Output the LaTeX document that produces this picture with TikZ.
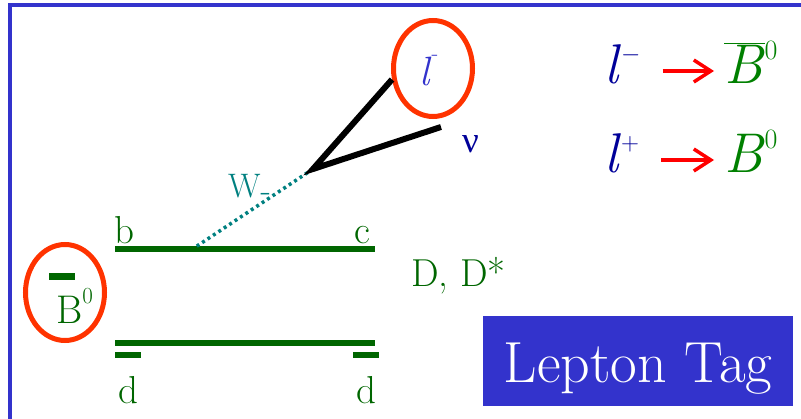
\documentclass[tikz,border=0pt]{standalone}
\usepackage{fontspec}
\newfontfamily\greekfont{Liberation Serif}
\usepackage{tikz}
\usetikzlibrary{shapes.geometric,arrows.meta}
\definecolor{LTBlue}{HTML}{3333CC}
\definecolor{LTNavy}{HTML}{000099}
\definecolor{LTGreen}{HTML}{006600}
\definecolor{LTBright}{HTML}{008000}
\definecolor{LTRing}{HTML}{FF3300}
\definecolor{LTRed}{HTML}{FF0000}
\definecolor{LTTeal}{HTML}{008080}
\newcommand\fsz[1]{\fontsize{#1}{#1}\selectfont}
\tikzset{
  quark/.style={LTGreen,line width=6pt},
  ring/.style={ellipse,draw=LTRing,line width=5pt,minimum width=79pt,minimum height=96pt,inner sep=0pt},
  qlabel/.style={LTGreen,inner sep=0pt,anchor=base west,font=\fsz{39}},
  track/.style={black,line width=6pt},
  formula/.style={inner sep=0pt,anchor=base west,font=\fsz{56}},
  sel/.style={LTRed,line width=3.5pt,-{Straight Barb[length=17pt,width=22pt]}},
}

\begin{document}
\begin{tikzpicture}[x=1pt,y=-1pt]
\useasboundingbox (0,0) rectangle (801,418);
\draw[LTBlue,line width=4pt] (9.5,422) -- (9.5,5.3) -- (805,5.3);
\node[ring] (lring) at (433,68.5) {};
\node[LTBlue,inner sep=0pt,anchor=base west,font=\fsz{41}] (lep) at (419,85) {\textit{l}\raisebox{0.6em}{\fsz{22}-}};
\node[LTNavy,inner sep=0pt,anchor=base west,font=\fsz{37}\greekfont] (nu) at (462,152) {ν};
\coordinate (vtx) at (313,169);
\coordinate (nuend) at (441,127);
\coordinate (bL) at (115,248.5);
\coordinate (bR) at (375,248.5);
\coordinate (dL) at (115,343);
\coordinate (dR) at (375,343);
\coordinate (wq) at (194,248);
\draw[quark] (bL) -- (bR);
\draw[quark] (dL) -- (dR);
\draw[quark] (115,354.5) -- (141,354.5);
\draw[quark] (353,354.5) -- (379,354.5);
\draw[LTTeal,line width=3.5pt,dash pattern=on 3pt off 3.5pt] (vtx) -- (wq);
\draw[track] (lring.195) -- (vtx) -- (nuend);
\node[qlabel] (b) at (114,243) {b};
\node[qlabel] (c) at (354,243) {c};
\node[qlabel] (d1) at (118,403) {d};
\node[qlabel] (d2) at (356,403) {d};
\node[qlabel] (dmeson) at (411,286) {D, D*};
\node[LTTeal,inner sep=0pt,anchor=base west,font=\fsz{34}] (w) at (228,197) {W\raisebox{-0.12em}{-}};
\node[ring] (bring) at (65,292.5) {};
\node[LTGreen,inner sep=0pt,anchor=base west,font=\fsz{40}] (b0) at (56,323) {B\raisebox{0.48em}{\fsz{23}0}};
\draw[quark,line width=7pt] (49,276) -- (75,276);
\node[formula,LTNavy] (lm) at (604,83) {\textit{l}\raisebox{22pt}{\fsz{28}$-$}};
\node[formula,LTBright] (bm) at (724,83) {$\overline{\mbox{\textit{B}}}$\raisebox{24pt}{\fsz{28}0}};
\node[formula,LTNavy] (lp) at (604,172) {\textit{l}\raisebox{22pt}{\fsz{28}$+$}};
\node[formula,LTBright] (bp) at (724,172) {\textit{B}\raisebox{24pt}{\fsz{28}0}};
\draw[sel,shorten <=22pt,shorten >=10pt] ([yshift=12pt]lm.base east) -- ([yshift=12pt]bm.base west);
\draw[sel,shorten <=22pt,shorten >=10pt] ([yshift=12pt]lp.base east) -- ([yshift=12pt]bp.base west);
\node[fill=LTBlue,text=white,minimum width=310pt,minimum height=90pt,inner sep=0pt,text height=42pt,text depth=0pt,font=\fsz{58}] (tag) at (638,361) {Lepton Tag};
\end{tikzpicture}
\end{document}
